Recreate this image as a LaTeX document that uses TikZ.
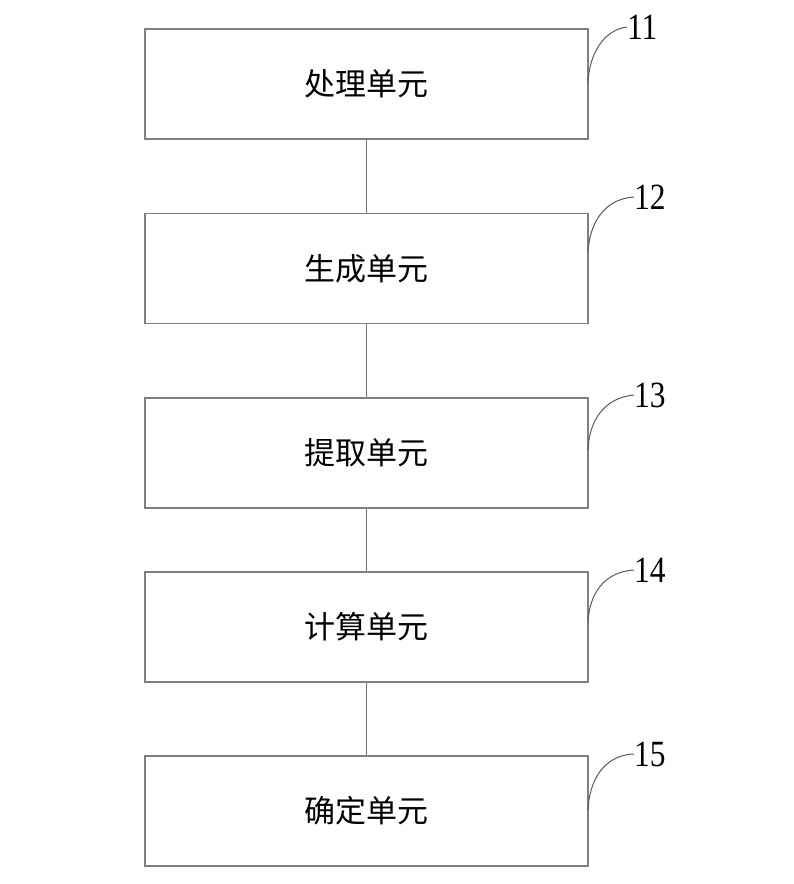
\documentclass[tikz,border=0pt]{standalone}
\usepackage{fontspec}
\setmainfont{Liberation Serif}
\newfontfamily\cjk{Noto Sans CJK SC}
\begin{document}
\begin{tikzpicture}[x=1pt,y=1pt,
  unitbox/.style={draw=black!50, line width=1.3pt, minimum width=443pt, minimum height=110pt, inner sep=0pt, font=\cjk\fontsize{31}{31}\selectfont},
  link/.style={draw=black!55, line width=1.3pt},
  leader/.style={draw=black!65, line width=1pt},
  refnum/.style={font=\fontsize{37}{37}\selectfont, xscale=0.85, inner sep=0pt, anchor=west}]
\useasboundingbox (0,0) rectangle (794,-884);
\node[unitbox] (b1) at (366.5,-84) {处理单元};
\node[unitbox] (b2) at (366.5,-268.5) {生成单元};
\node[unitbox] (b3) at (366.5,-453) {提取单元};
\node[unitbox] (b4) at (366.5,-627) {计算单元};
\node[unitbox] (b5) at (366.5,-811) {确定单元};
\draw[link] (b1) -- (b2);
\draw[link] (b2) -- (b3);
\draw[link] (b3) -- (b4);
\draw[link] (b4) -- (b5);
\node[refnum] (n1) at (627,-27) {11};
\node[refnum] (n2) at (634,-197) {12};
\node[refnum] (n3) at (634,-395) {13};
\node[refnum] (n4) at (634,-570) {14};
\node[refnum] (n5) at (634,-754) {15};
\coordinate (s1) at (588,-83);
\coordinate (s2) at (588,-253);
\coordinate (s3) at (588,-450);
\coordinate (s4) at (588,-623);
\coordinate (s5) at (588,-810);
\draw[leader] (s1) .. controls (589,-55) and (603,-30) .. (n1.west);
\draw[leader] (s2) .. controls (589,-225) and (603,-199) .. (n2.west);
\draw[leader] (s3) .. controls (589,-422) and (603,-398) .. (n3.west);
\draw[leader] (s4) .. controls (589,-595) and (603,-572) .. (n4.west);
\draw[leader] (s5) .. controls (589,-782) and (603,-755) .. (n5.west);
\end{tikzpicture}
\end{document}
